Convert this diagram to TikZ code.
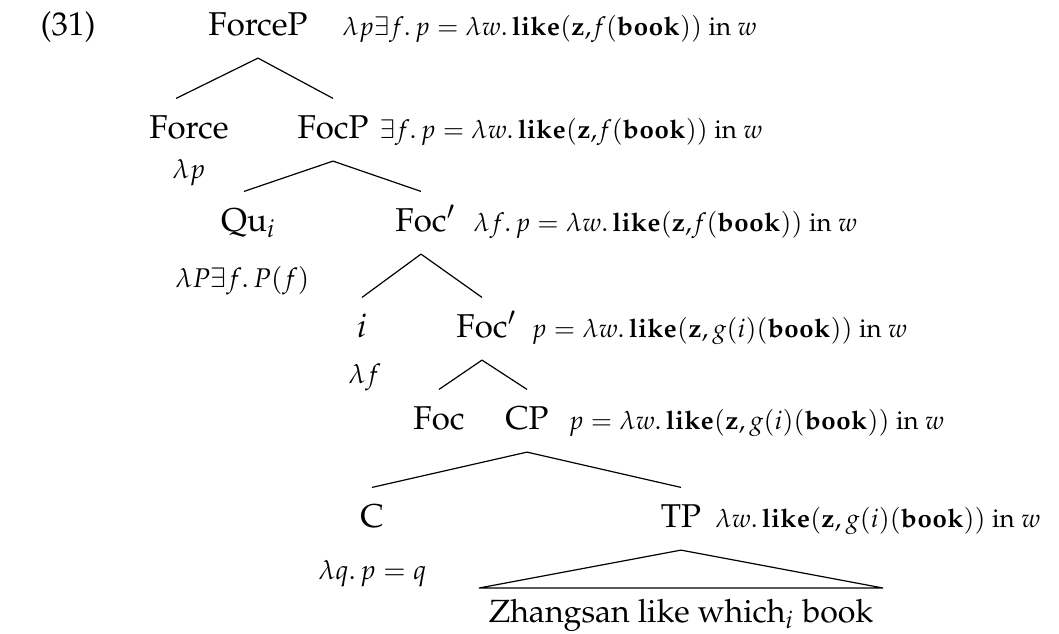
\documentclass[tikz,border=0pt]{standalone}
\usepackage[T1]{fontenc}
\usepackage{mathpazo}
\usepackage{amsmath}
\newcommand{\lk}{\mathbf{like}}
\newcommand{\bk}{\mathbf{book}}
\newcommand{\zz}{\mathbf{z}}
\begin{document}
\begin{tikzpicture}[x=0.3333pt,y=-0.3333pt,
  every node/.style={font=\fontsize{11}{13}\selectfont},
  cat/.style={inner xsep=0pt, inner ysep=0pt, text height=13pt, text depth=7.5pt, anchor=base},
  sem/.style={inner sep=0pt, anchor=base west, font=\fontsize{8.6}{10}\selectfont},
  side/.style={inner sep=0pt, anchor=base west, font=\fontsize{9}{11}\selectfont},
  branch/.style={line width=0.4pt}]
\useasboundingbox (0,0) rectangle (1059,633);
\node[inner sep=0pt, anchor=base west] (ex) at (40,35) {(31)};
% categories
\node[cat] (ForceP) at (258,35) {ForceP};
\node[cat] (Force) at (189,138) {Force};
\node[cat] (FocP) at (333,138) {FocP};
\node[cat] (Qu) at (244,231) {Qu\rlap{$_i$}};
\node[cat] (FocA) at (421,231) {Foc\rlap{$'$}};
\node[cat] (I) at (362,337) {$i$};
\node[cat] (FocB) at (482,337) {Foc\rlap{$'$}};
\node[cat] (Foc) at (439,429) {Foc};
\node[cat] (CP) at (527,429) {CP};
\node[cat] (C) at (372,527) {C};
\node[cat] (TP) at (681,527) {TP};
\node[inner sep=0pt, anchor=base, font=\fontsize{10.7}{13}\selectfont] (yield) at (681,622) {Zhangsan like which$_i$ book};
% semantics
\node[sem] (s1) at (342,35) {$\lambda p\exists f.\,p=\lambda w.\,\lk(\zz{,}f(\bk))$ in $w$};
\node[sem] (s2) at (379,138) {$\exists f.\,p=\lambda w.\,\lk(\zz{,}f(\bk))$ in $w$};
\node[sem] (s3) at (473,231) {$\lambda f.\,p=\lambda w.\,\lk(\zz{,}f(\bk))$ in $w$};
\node[sem] (s4) at (531,337) {$p=\lambda w.\,\lk(\zz,g(i)(\bk))$ in $w$};
\node[sem] (s5) at (568,429) {$p=\lambda w.\,\lk(\zz,g(i)(\bk))$ in $w$};
\node[sem] (s6) at (715,527) {$\lambda w.\,\lk(\zz,g(i)(\bk))$ in $w$};
\node[side] (l1) at (172,178) {$\lambda p$};
\node[side] (l2) at (175,287) {$\lambda P\exists f.\,P(f)$};
\node[side] (l3) at (348,383) {$\lambda f$};
\node[side] (l4) at (318,579) {$\lambda q.\,p=q$};
% branches
\draw[branch] (ForceP.south) -- ([xshift=-4.3pt]Force.north);
\draw[branch] (ForceP.south) -- (FocP.north);
\draw[branch] (FocP.south) -- (Qu.north);
\draw[branch] (FocP.south) -- (FocA.north);
\draw[branch] (FocA.south) -- (I.north);
\draw[branch] (FocA.south) -- (FocB.north);
\draw[branch] (FocB.south) -- (Foc.north);
\draw[branch] (FocB.south) -- (CP.north);
\draw[branch] (CP.south) -- (C.north);
\draw[branch] (CP.south) -- (TP.north);
\coordinate (tl) at (479,588);
\coordinate (tr) at (883,588);
\draw[branch] (TP.south) -- (tl) -- (tr) -- cycle;
\end{tikzpicture}
\end{document}
